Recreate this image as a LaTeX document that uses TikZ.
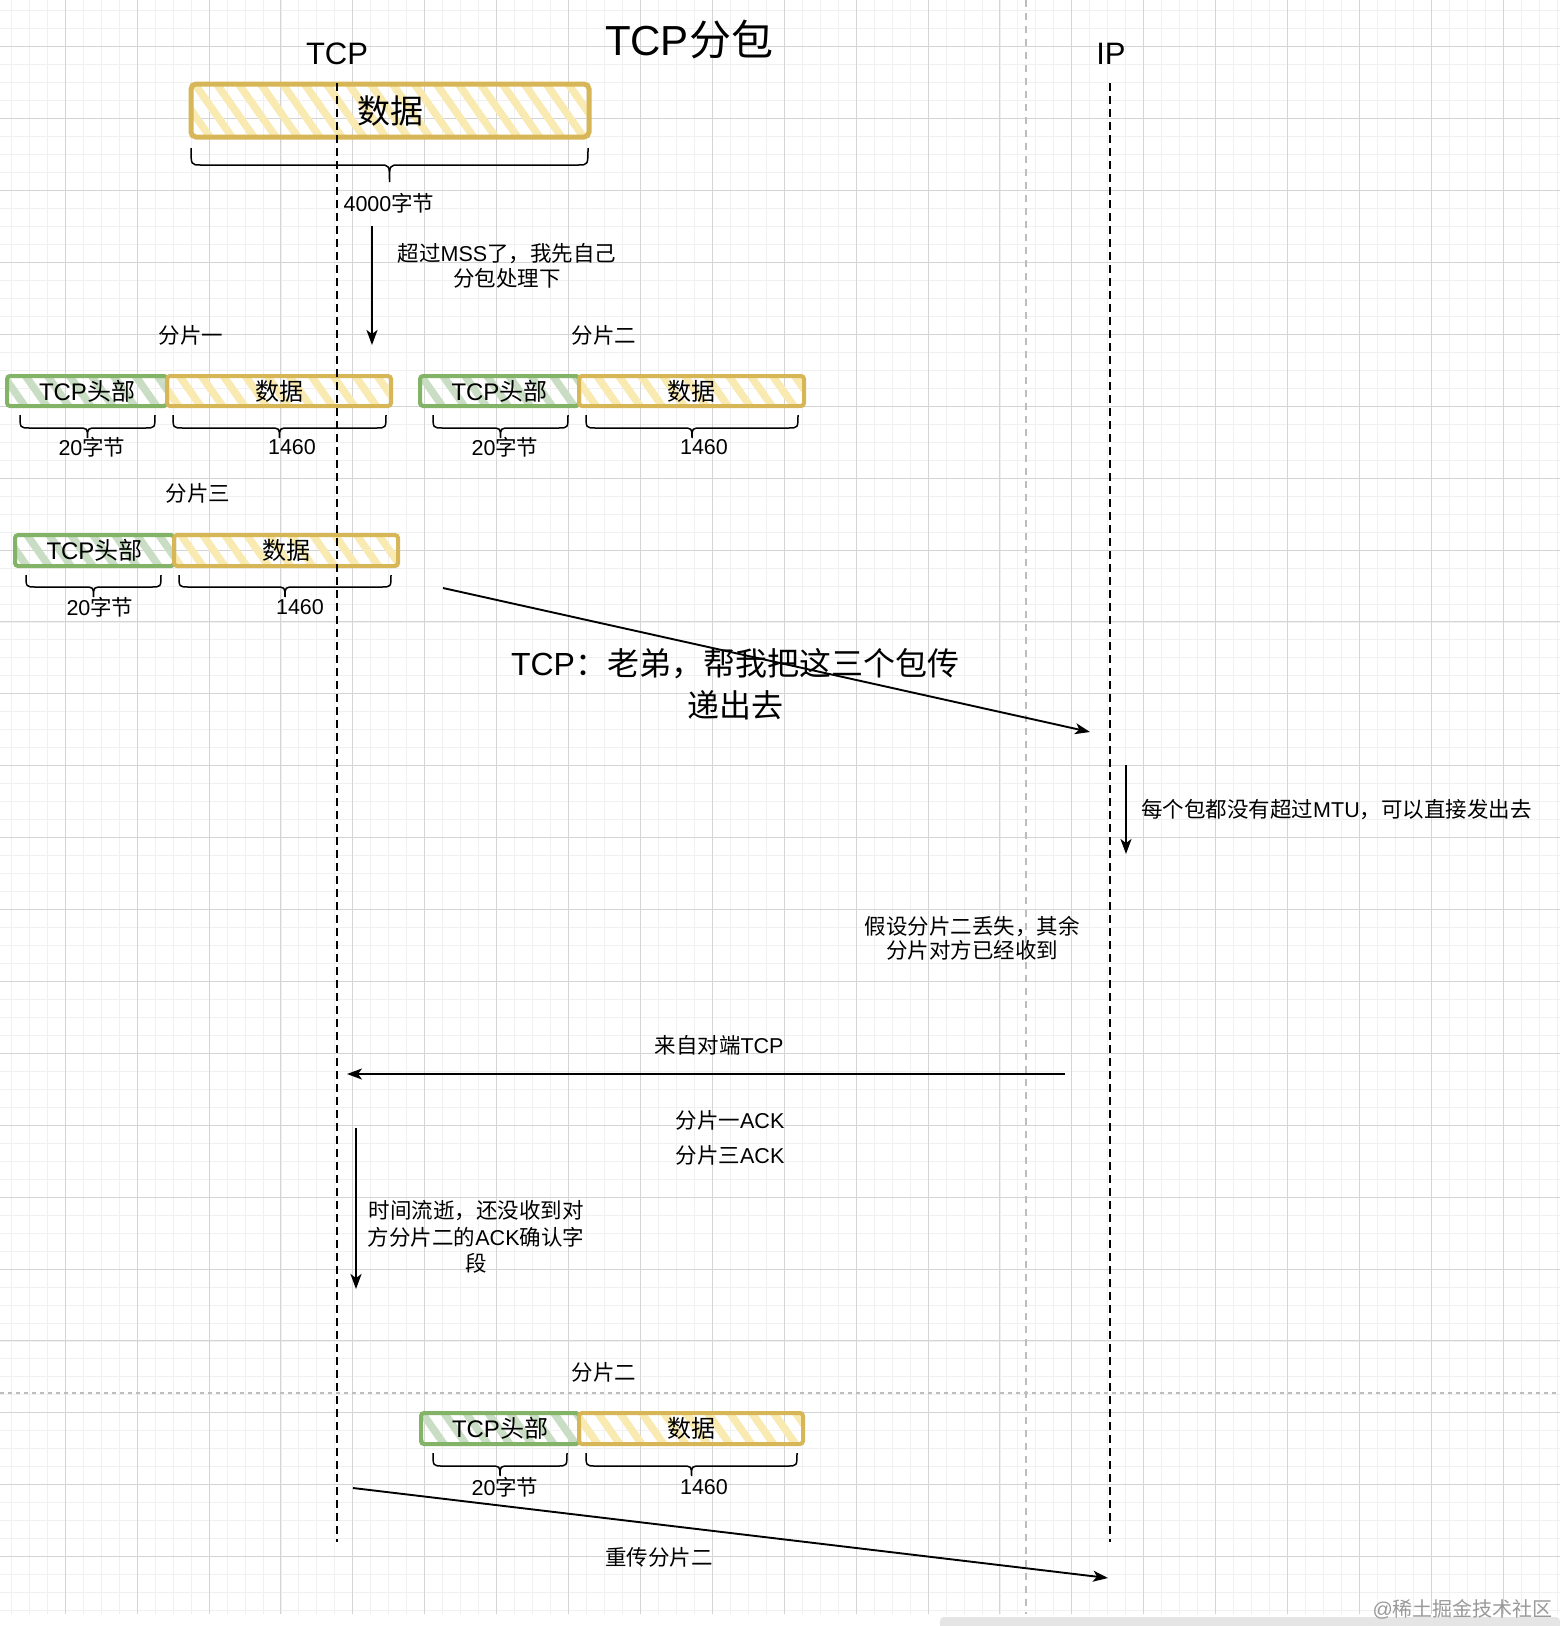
\documentclass[tikz,border=0pt]{standalone}
\usepackage{fontspec}
\setmainfont{Liberation Sans}
\newfontfamily\cjk{Noto Sans CJK SC}
\usetikzlibrary{arrows.meta,patterns.meta}
\newcommand\zh[1]{{\cjk #1}}
\definecolor{gstroke}{HTML}{82B366}
\definecolor{ystroke}{HTML}{D6B656}
\definecolor{gstripe}{HTML}{C8DDC3}
\definecolor{ystripe}{HTML}{F8EAB0}
\definecolor{gridminor}{HTML}{F0F0F0}
\definecolor{gridmajor}{HTML}{D4D4D4}
\definecolor{pagebreak}{HTML}{BDBDBD}
\newcommand\cbrace[5]{%
  \pgfmathsetmacro\bxc{(#1+#2)/2}%
  \draw[bracestyle] (#1,#3) .. controls (#1,#4) .. (#1+10,#4) -- (\bxc-10,#4) .. controls (\bxc,#4) .. (\bxc,#5)
     .. controls (\bxc,#4) .. (\bxc+10,#4) -- (#2-10,#4) .. controls (#2,#4) .. (#2,#3);
}
\begin{document}
\begin{tikzpicture}[x=1pt,y=-1pt,
  minorgrid/.style={draw=gridminor, line width=1pt},
  majorgrid/.style={draw=gridmajor, line width=1pt},
  life/.style={line width=1.8pt, dash pattern=on 8pt off 5pt},
  pagebrk/.style={draw=pagebreak, line width=1.4pt, dash pattern=on 7pt off 6pt},
  pagebrkh/.style={draw=pagebreak, line width=1.6pt, dash pattern=on 4pt off 4pt},
  arr/.style={line width=1.9pt, -{Stealth[length=15pt,width=11pt,inset=4pt]}},
  bracestyle/.style={line width=1.5pt},
  lbl/.style={inner sep=0pt, align=center, font=\fontsize{21.5}{25}\selectfont},
  hdr/.style={draw=gstroke, line width=4pt, rounded corners=3pt,
    pattern={Lines[angle=-55,distance=18pt,line width=7.5pt]}, pattern color=gstripe,
    inner sep=0pt, font=\fontsize{24}{28}\selectfont},
  dat/.style={draw=ystroke, line width=4pt, rounded corners=3pt,
    pattern={Lines[angle=-55,distance=18pt,line width=7.5pt]}, pattern color=ystripe,
    inner sep=0pt, font=\fontsize{24}{28}\selectfont},
]
\useasboundingbox (0,0) rectangle (1560,1626);
\fill[white] (0,0) rectangle (1560,1626);
% grid
\foreach \i in {0,...,88} \draw[minorgrid] ({round(-7.1+17.975*\i)+0.5},0) -- ({round(-7.1+17.975*\i)+0.5},1614);
\foreach \i in {0,...,92} \draw[minorgrid] (0,{round(-25.6+17.975*\i)+0.5}) -- (1560,{round(-25.6+17.975*\i)+0.5});
\foreach \i in {0,...,22} \draw[majorgrid] ({round(-7.1+71.9*\i)+0.5},0) -- ({round(-7.1+71.9*\i)+0.5},1614);
\foreach \i in {0,...,23} \draw[majorgrid] (0,{round(-25.6+71.9*\i)+0.5}) -- (1560,{round(-25.6+71.9*\i)+0.5});
\fill[white] (0,1614) rectangle (1560,1626);
\fill[gridmajor!60] (940,1617) [rounded corners=4pt] rectangle (1560,1630);
% page break lines
\draw[pagebrk] (1026,0) -- (1026,1614);
\draw[pagebrkh] (0,1393) -- (1560,1393);

% title and headings
\node[inner sep=0pt, font=\fontsize{42}{48}\selectfont] (title) at (689,39) {TCP\zh{分包}};
\node[inner sep=0pt, font=\fontsize{31}{36}\selectfont] (tcp) at (337,54) {TCP};
\node[inner sep=0pt, font=\fontsize{31}{36}\selectfont] (ip) at (1111,54) {IP};

% big data box
\node[dat, line width=5pt, rounded corners=5pt, minimum width=398pt, minimum height=53pt,
  font=\fontsize{33}{38}\selectfont] (bigdata) at (390,110.5) {\zh{数据}};
\cbrace{191}{588}{148}{165}{182}
\node[lbl] (l4000) at (389,203) {4000\zh{字节}};

% fragment 1
\node[lbl] (n1) at (191,335) {\zh{分片一}};
\node[hdr, minimum width=160pt, minimum height=30pt] (f1h) at (87,391) {TCP\zh{头部}};
\node[dat, minimum width=224pt, minimum height=30pt] (f1d) at (279,391) {\zh{数据}};
\cbrace{20}{155}{415}{428}{438}
\cbrace{173}{386}{415}{428}{438}
\node[lbl] (f1a) at (92,447) {20\zh{字节}};
\node[lbl] (f1b) at (292,447) {1460};

% fragment 2
\node[lbl] (n2) at (604,335) {\zh{分片二}};
\node[hdr, minimum width=159pt, minimum height=30pt] (f2h) at (499.5,391) {TCP\zh{头部}};
\node[dat, minimum width=225pt, minimum height=30pt] (f2d) at (691.5,391) {\zh{数据}};
\cbrace{433}{568}{415}{428}{438}
\cbrace{586}{798}{415}{428}{438}
\node[lbl] (f2a) at (505,447) {20\zh{字节}};
\node[lbl] (f2b) at (704,447) {1460};

% fragment 3
\node[lbl] (n3) at (198,493) {\zh{分片三}};
\node[hdr, minimum width=159pt, minimum height=31pt] (f3h) at (94.5,550.5) {TCP\zh{头部}};
\node[dat, minimum width=224pt, minimum height=31pt] (f3d) at (286,550.5) {\zh{数据}};
\cbrace{26}{161}{575}{587}{597}
\cbrace{179}{391}{575}{587}{597}
\node[lbl] (f3a) at (100,607) {20\zh{字节}};
\node[lbl] (f3b) at (300,607) {1460};

% retransmitted fragment 2
\node[lbl] (n4) at (604,1372) {\zh{分片二}};
\node[hdr, minimum width=158pt, minimum height=31pt] (f4h) at (500,1428.5) {TCP\zh{头部}};
\node[dat, minimum width=224pt, minimum height=31pt] (f4d) at (691,1428.5) {\zh{数据}};
\cbrace{433}{567}{1453}{1466}{1476}
\cbrace{586}{797}{1453}{1466}{1476}
\node[lbl] (f4a) at (505,1487) {20\zh{字节}};
\node[lbl] (f4b) at (704,1487) {1460};

% lifelines
\coordinate (tcpTop) at (337,83);
\coordinate (tcpBot) at (337,1542);
\coordinate (ipTop) at (1110,83);
\coordinate (ipBot) at (1110,1542);
\draw[life] (tcpTop) -- (tcpBot);
\draw[life] (ipTop) -- (ipBot);

% arrow 1: split
\coordinate (a1s) at (372,226);
\coordinate (a1e) at (372,345);
\draw[arr] (a1s) -- (a1e);
\node[lbl] (t1) at (507,266) {\zh{超过}MSS\zh{了，我先自己}\\\zh{分包处理下}};

% arrow 2: send to IP
\coordinate (a2s) at (443,588);
\coordinate (a2e) at (1090,732);
\draw[arr] (a2s) -- (a2e);
\node[inner sep=0pt, align=center, font=\fontsize{32}{42}\selectfont] (t2) at (735,684)
  {TCP\zh{：老弟，帮我把这三个包传}\\\zh{递出去}};

% arrow 3: MTU
\coordinate (a3s) at (1126,765);
\coordinate (a3e) at (1126,854);
\draw[arr] (a3s) -- (a3e);
\node[lbl, anchor=west] (t3) at (1141,810) {\zh{每个包都没有超过}MTU\zh{，可以直接发出去}};

\node[lbl, font=\fontsize{21.5}{24}\selectfont] (t4) at (972,938) {\zh{假设分片二丢失，其余}\\\zh{分片对方已经收到}};

% arrow 4: ACK back
\coordinate (a4s) at (1065,1074);
\coordinate (a4e) at (347,1074);
\draw[arr] (a4s) -- (a4e);
\node[lbl] (t5) at (719,1045) {\zh{来自对端}TCP};
\node[lbl] (t6) at (730,1120) {\zh{分片一}ACK};
\node[lbl] (t7) at (730,1155) {\zh{分片三}ACK};

% arrow 5: time passes
\coordinate (a5s) at (356,1128);
\coordinate (a5e) at (356,1289);
\draw[arr] (a5s) -- (a5e);
\node[lbl, font=\fontsize{21.5}{26.5}\selectfont] (t8) at (476,1237) {\zh{时间流逝，还没收到对}\\\zh{方分片二的}ACK\zh{确认字}\\\zh{段}};

% arrow 6: retransmit
\coordinate (a6s) at (353,1488);
\coordinate (a6e) at (1108,1578);
\draw[arr] (a6s) -- (a6e);
\node[lbl] (t9) at (659,1557) {\zh{重传分片二}};

% watermark
\node[inner sep=0pt, anchor=east, text=black!40, font=\fontsize{20}{24}\selectfont] (wm) at (1553,1609) {@\zh{稀土掘金技术社区}};
\end{tikzpicture}
\end{document}
